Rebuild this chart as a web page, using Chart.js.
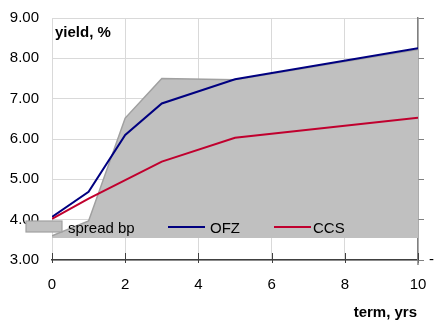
<!DOCTYPE html>
<html><head><meta charset="utf-8">
<script src="https://cdn.jsdelivr.net/npm/chart.js@4/dist/chart.umd.min.js"></script>
<style>html,body{margin:0;padding:0;background:#fff}#wrap{width:436px;height:322px}</style>
</head><body><div id="wrap"><canvas id="c" width="436" height="322"></canvas></div>
<script>
// ---- data ----
const spreadTerms = [0, 1, 2, 3, 5, 10];
const spreadTop   = [3.60, 3.97, 6.52, 7.50, 7.47, 8.22];
const spreadBase  = 3.545;
const ofzTerms = [0, 1, 2, 3, 5, 10];
const ofz      = [4.07, 4.69, 6.10, 6.88, 7.48, 8.25];
const ccsTerms = [0, 1, 2, 3, 5, 10];
const ccs      = [4.02, 4.52, 4.98, 5.44, 6.03, 6.53];
const xTicks = [0, 2, 4, 6, 8, 10];
const yTicks = [3, 4, 5, 6, 7, 8, 9];
const seriesNames = ['spread bp', 'OFZ', 'CCS'];
const xTitle = 'term, yrs';
const yTitle = 'yield, %';

const FONT = "'Liberation Sans', Arial, sans-serif";
const NAVY = '#000080', RED = '#c0002e', GREY = '#c0c0c0', GREY_EDGE = '#a0a0a0';

const pts = (xs, ys) => xs.map((x, i) => ({x: x, y: ys[i]}));

const overlay = {
  id: 'overlay',
  afterDraw(chart) {
    const ctx = chart.ctx, a = chart.chartArea, xs = chart.scales.x;
    ctx.save();
    // inward x ticks
    ctx.strokeStyle = '#404040'; ctx.lineWidth = 1;
    xTicks.forEach(v => {
      const px = Math.round(xs.getPixelForValue(v)) + 0.5;
      ctx.beginPath(); ctx.moveTo(px, a.bottom - 7); ctx.lineTo(px, a.bottom + 3); ctx.stroke();
    });
    // right axis extension below x axis
    ctx.strokeStyle = '#808080'; ctx.lineWidth = 1.5;
    ctx.beginPath(); ctx.moveTo(a.right, a.bottom); ctx.lineTo(a.right, a.bottom + 5); ctx.stroke();
    // titles
    ctx.fillStyle = '#000';
    ctx.font = 'bold 15px ' + FONT;
    ctx.textAlign = 'left'; ctx.textBaseline = 'alphabetic';
    ctx.fillText(yTitle, a.left + 3, a.top + 19);
    ctx.textAlign = 'right';
    ctx.fillText(xTitle, a.right - 1, a.bottom + 57);
    // legend
    const ly = a.bottom - 33;
    ctx.fillStyle = GREY; ctx.strokeStyle = GREY_EDGE; ctx.lineWidth = 1.2;
    ctx.fillRect(a.left - 26, ly - 6, 36, 11);
    ctx.strokeRect(a.left - 26, ly - 6, 36, 11);
    ctx.lineWidth = 2;
    ctx.strokeStyle = NAVY;
    ctx.beginPath(); ctx.moveTo(a.left + 116, ly); ctx.lineTo(a.left + 153, ly); ctx.stroke();
    ctx.strokeStyle = RED;
    ctx.beginPath(); ctx.moveTo(a.left + 222, ly); ctx.lineTo(a.left + 259, ly); ctx.stroke();
    ctx.fillStyle = '#000'; ctx.font = '15px ' + FONT; ctx.textAlign = 'left';
    ctx.fillText(seriesNames[0], a.left + 16, ly + 6);
    ctx.fillText(seriesNames[1], a.left + 158, ly + 6);
    ctx.fillText(seriesNames[2], a.left + 261, ly + 6);
    ctx.restore();
  }
};

new Chart(document.getElementById('c'), {
  type: 'line',
  data: {
    datasets: [
      { label: seriesNames[0], data: pts(spreadTerms, spreadTop), fill: {value: spreadBase},
        backgroundColor: GREY, borderColor: GREY_EDGE, borderWidth: 1.5, pointRadius: 0, order: 3, tension: 0 },
      { label: seriesNames[1], data: pts(ofzTerms, ofz), fill: false,
        borderColor: NAVY, borderWidth: 2, pointRadius: 0, order: 2, tension: 0 },
      { label: seriesNames[2], data: pts(ccsTerms, ccs), fill: false,
        borderColor: RED, borderWidth: 2, pointRadius: 0, order: 1, tension: 0 }
    ]
  },
  options: {
    responsive: false, animation: false, devicePixelRatio: 1,
    layout: { padding: { top: 18, left: 0, right: 0, bottom: 0 } },
    plugins: { legend: { display: false }, tooltip: { enabled: false } },
    scales: {
      x: {
        type: 'linear', min: 0, max: 10,
        afterBuildTicks: s => { s.ticks = xTicks.map(v => ({value: v})); },
        ticks: { color: '#000', font: { family: FONT, size: 15 }, padding: 16, maxRotation: 0 },
        grid: { color: '#d9d9d9', lineWidth: 1, drawTicks: false },
        border: { color: '#404040', width: 1.5 },
        afterFit: s => { s.height = 62; s.paddingLeft = 0; s.paddingRight = 0; }
      },
      y: {
        min: 3, max: 9,
        afterBuildTicks: s => { s.ticks = yTicks.map(v => ({value: v})); },
        ticks: { color: '#000', font: { family: FONT, size: 15 }, padding: 13, callback: v => Number(v).toFixed(2) },
        grid: { color: '#d9d9d9', lineWidth: 1, drawTicks: false },
        border: { display: false },
        afterFit: s => { s.width = 52; s.paddingTop = 0; s.paddingBottom = 0; }
      },
      y2: {
        position: 'right', min: 3, max: 9,
        afterBuildTicks: s => { s.ticks = yTicks.map(v => ({value: v})); },
        ticks: { color: '#000', font: { family: FONT, size: 15 }, padding: 5, callback: v => (v === 3 ? '-' : '') },
        grid: { drawOnChartArea: false, color: '#808080', tickLength: 6 },
        border: { color: '#808080', width: 1.5 },
        afterFit: s => { s.width = 18; s.paddingTop = 0; s.paddingBottom = 0; }
      }
    }
  },
  plugins: [overlay]
});
</script>
</body></html>
